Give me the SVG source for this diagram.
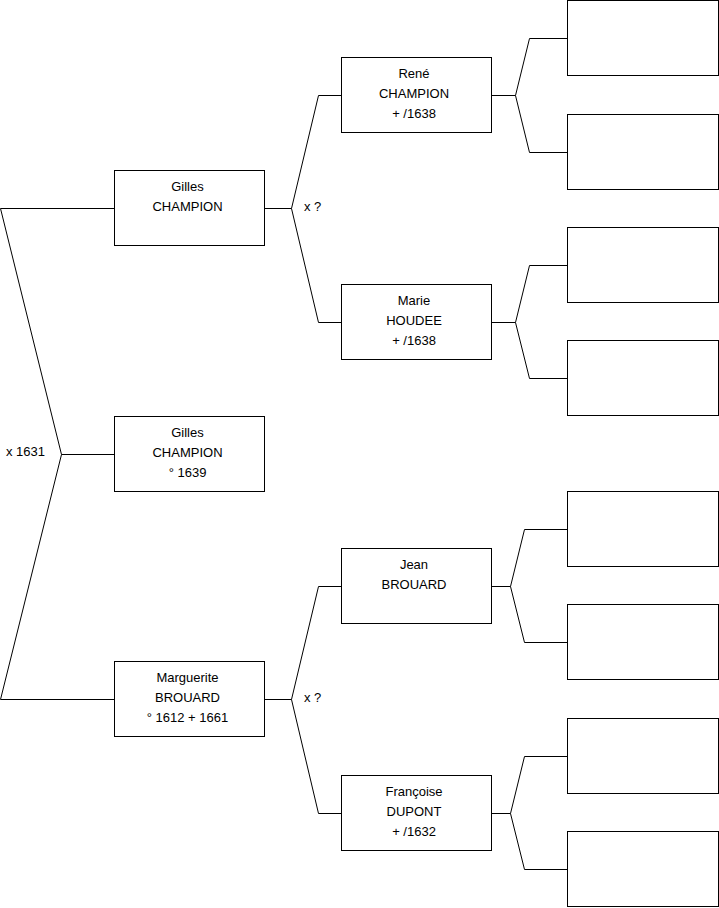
<svg xmlns="http://www.w3.org/2000/svg" width="719" height="908" viewBox="0 0 719 908">
<style>
.box{fill:#fff;stroke:#000;stroke-width:1}
.ln{fill:none;stroke:#000;stroke-width:1}
text{font-family:"Liberation Sans",Arial,sans-serif;font-size:13px;fill:#000}
.c{text-anchor:middle}
</style>
<rect width="719" height="908" fill="#fff"/>
<g id="connectors">
<path class="ln" d="M0.5,208.5 H114 M0.5,208.5 L61.5,454.5 H114 M61.5,454.5 L0.5,699.5 H114"/>
<path class="ln" d="M265,208.5 H291.5 L318.5,95.5 H341 M291.5,208.5 L318.5,322.5 H341"/>
<path class="ln" d="M265,699.5 H291.5 L318.5,586.5 H341 M291.5,699.5 L318.5,813.5 H341"/>
<path class="ln" d="M491,95.5 H515.5 L529.5,38.5 H567 M515.5,95.5 L529.5,152.5 H567"/>
<path class="ln" d="M491,322.5 H515.5 L529.5,265.5 H567 M515.5,322.5 L529.5,378.5 H567"/>
<path class="ln" d="M491,586.5 H510.5 L524.5,529.5 H567 M510.5,586.5 L524.5,642.5 H567"/>
<path class="ln" d="M491,813.5 H510.5 L524.5,756.5 H567 M510.5,813.5 L524.5,869.5 H567"/>
<text x="6" y="456">x 1631</text>
<text x="304" y="211">x ?</text>
<text x="304" y="702">x ?</text>
</g>
<g id="n_gilles_father">
<rect class="box" x="114.5" y="170.5" width="150" height="75"/>
<text class="c" x="187.5" y="191">Gilles</text>
<text class="c" x="187.5" y="211">CHAMPION</text>
</g>
<g id="n_gilles_child">
<rect class="box" x="114.5" y="416.5" width="150" height="75"/>
<text class="c" x="187.5" y="437">Gilles</text>
<text class="c" x="187.5" y="457">CHAMPION</text>
<text class="c" x="187.5" y="477">° 1639</text>
</g>
<g id="n_marguerite">
<rect class="box" x="114.5" y="661.5" width="150" height="75"/>
<text class="c" x="187.5" y="682">Marguerite</text>
<text class="c" x="187.5" y="702">BROUARD</text>
<text class="c" x="187.5" y="722">° 1612 + 1661</text>
</g>
<g id="n_rene">
<rect class="box" x="341.5" y="57.5" width="150" height="75"/>
<text class="c" x="414" y="78">René</text>
<text class="c" x="414" y="98">CHAMPION</text>
<text class="c" x="414" y="118">+ /1638</text>
</g>
<g id="n_marie">
<rect class="box" x="341.5" y="284.5" width="150" height="75"/>
<text class="c" x="414" y="305">Marie</text>
<text class="c" x="414" y="325">HOUDEE</text>
<text class="c" x="414" y="345">+ /1638</text>
</g>
<g id="n_jean">
<rect class="box" x="341.5" y="548.5" width="150" height="75"/>
<text class="c" x="414" y="569">Jean</text>
<text class="c" x="414" y="589">BROUARD</text>
</g>
<g id="n_francoise">
<rect class="box" x="341.5" y="775.5" width="150" height="75"/>
<text class="c" x="414" y="796">Françoise</text>
<text class="c" x="414" y="816">DUPONT</text>
<text class="c" x="414" y="836">+ /1632</text>
</g>
<g id="n_g3_1"><rect class="box" x="567.5" y="0.5" width="151" height="75"/></g>
<g id="n_g3_2"><rect class="box" x="567.5" y="114.5" width="151" height="75"/></g>
<g id="n_g3_3"><rect class="box" x="567.5" y="227.5" width="151" height="75"/></g>
<g id="n_g3_4"><rect class="box" x="567.5" y="340.5" width="151" height="75"/></g>
<g id="n_g3_5"><rect class="box" x="567.5" y="491.5" width="151" height="75"/></g>
<g id="n_g3_6"><rect class="box" x="567.5" y="604.5" width="151" height="75"/></g>
<g id="n_g3_7"><rect class="box" x="567.5" y="718.5" width="151" height="75"/></g>
<g id="n_g3_8"><rect class="box" x="567.5" y="831.5" width="151" height="75"/></g>
</svg>
